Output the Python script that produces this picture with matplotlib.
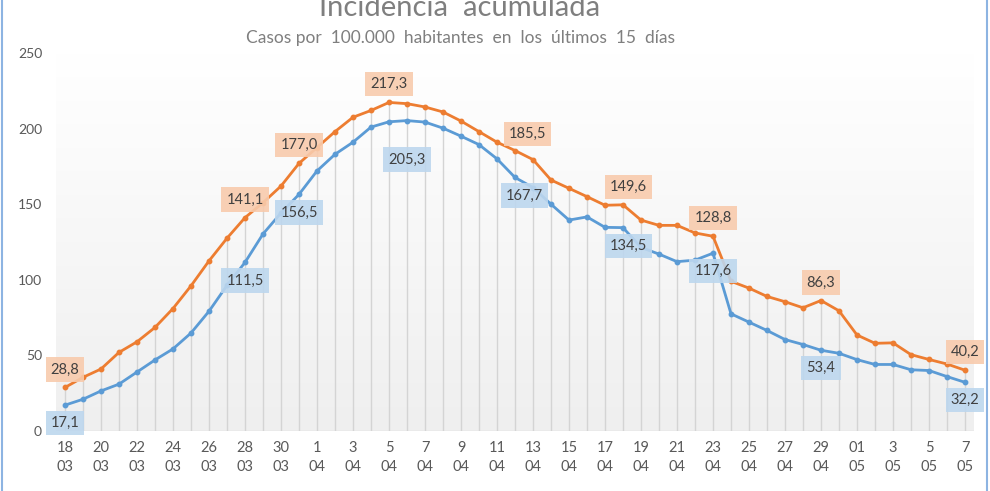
import numpy as np
import matplotlib
matplotlib.use("Agg")
import matplotlib.pyplot as plt

plt.rcParams['font.family'] = ['Lato', 'DejaVu Sans']

# ---------------- data ----------------
tick_labels = ["18\n03", "20\n03", "22\n03", "24\n03", "26\n03", "28\n03", "30\n03",
               "1\n04", "3\n04", "5\n04", "7\n04", "9\n04", "11\n04", "13\n04",
               "15\n04", "17\n04", "19\n04", "21\n04", "23\n04", "25\n04", "27\n04",
               "29\n04", "01\n05", "3\n05", "5\n05", "7\n05"]

serie_naranja = [28.8, 35.5, 41.0, 52.0, 59.0, 68.5, 81.0, 96.0, 112.5, 127.5,
                 141.1, 151.0, 162.0, 177.0, 187.5, 198.0, 207.5, 212.0, 217.3, 216.5,
                 214.3, 211.0, 205.0, 198.0, 191.0, 185.5, 179.5, 166.0, 160.5, 155.0,
                 149.3, 149.6, 139.5, 136.0, 136.0, 131.0, 128.8, 99.0, 94.5, 89.0,
                 85.5, 81.5, 86.3, 79.5, 63.5, 58.0, 58.3, 50.5, 47.3, 44.3, 40.2]

serie_azul = [17.1, 21.0, 26.5, 31.0, 39.0, 47.0, 54.3, 64.8, 79.2, 96.3,
              111.5, 130.3, 144.2, 156.5, 172.0, 183.0, 191.0, 201.0, 204.5, 205.3,
              204.3, 200.3, 195.0, 189.4, 180.0, 167.7, 161.0, 150.0, 139.5, 141.6,
              134.7, 134.5, 121.4, 117.0, 112.0, 113.0, 117.6, 77.5, 72.0, 66.5,
              60.5, 57.2, 53.4, 51.4, 47.2, 44.0, 44.0, 40.5, 40.0, 36.0, 32.2]

etiquetas_naranja = [0, 10, 13, 18, 25, 31, 36, 42, 50]
etiquetas_azul = [0, 10, 13, 19, 25, 31, 36, 42, 50]

titulo = "Incidencia  acumulada"
subtitulo = "Casos por  100.000  habitantes  en  los  últimos  15  días"

# ---------------- style ----------------
C_OR = "#ED7D31"
C_BL = "#5B9BD5"
BOX_OR = "#F8CBAD"
BOX_BL = "#BDD7EE"
TXT = "#404040"
AX_TXT = "#595959"

off_or = {0: (0, 13), 25: (9, 12), 31: (4, 13)}
off_bl = {0: (0, -13), 19: (0, -28), 25: (7, -13), 31: (4, -13)}

fig = plt.figure(figsize=(9.9, 4.91), dpi=100)
ax = fig.add_axes([56/990, 60/491, 918/990, 378/491])

n = len(serie_naranja)
x = np.arange(n)

grad = np.linspace(0, 1, 256).reshape(-1, 1)
cmap = matplotlib.colors.LinearSegmentedColormap.from_list("g", ["#EFEFEF", "#FFFFFF"])
ax.imshow(grad, extent=(-0.5, n - 0.5, 0, 250), origin="lower", aspect="auto",
          cmap=cmap, zorder=0)

ax.vlines(x, 0, serie_naranja, colors="#D4D4D4", linewidth=1.0, zorder=1)
ax.axhline(0, color="#D9D9D9", linewidth=1.0, zorder=1)

ax.plot(x, serie_naranja, color=C_OR, linewidth=2.0, marker="o", markersize=3.2, zorder=3)
ax.plot(x, serie_azul, color=C_BL, linewidth=2.0, marker="o", markersize=3.2, zorder=3)

def fmt(v):
    return f"{v:.1f}".replace(".", ",")

for i in etiquetas_naranja:
    dx, dy = off_or.get(i, (0, 13))
    ax.annotate(fmt(serie_naranja[i]), (x[i], serie_naranja[i]), xytext=(dx, dy),
                textcoords="offset points", ha="center", va="center", fontsize=10.5,
                color=TXT, zorder=5,
                bbox=dict(boxstyle="square,pad=0.35", fc=BOX_OR, ec="none", alpha=0.9))
for i in etiquetas_azul:
    dx, dy = off_bl.get(i, (0, -13))
    ax.annotate(fmt(serie_azul[i]), (x[i], serie_azul[i]), xytext=(dx, dy),
                textcoords="offset points", ha="center", va="center", fontsize=10.5,
                color=TXT, zorder=5,
                bbox=dict(boxstyle="square,pad=0.35", fc=BOX_BL, ec="none", alpha=0.9))

ax.set_xlim(-0.5, n - 0.5)
ax.set_ylim(0, 250)
ax.set_yticks([0, 50, 100, 150, 200, 250])
ax.set_xticks(x[::2])
ax.set_xticklabels(tick_labels, fontsize=10.5, color=AX_TXT, linespacing=1.45)
ax.tick_params(axis="y", labelsize=10, labelcolor=AX_TXT, length=0, pad=10)
ax.tick_params(axis="x", length=0, pad=7)
for s in ax.spines.values():
    s.set_visible(False)

fig.text(460/990, 1 - 16/491, titulo, ha="center", va="baseline", fontsize=21, color="#7F7F7F")
fig.text(460/990, 1 - 38/491, subtitulo, ha="center", va="center", fontsize=12.5, color="#7F7F7F")

fig.add_artist(plt.Line2D([2/990, 2/990], [0, 1], transform=fig.transFigure, color="#8DB4E2", linewidth=1.5))
fig.add_artist(plt.Line2D([987/990, 987/990], [0, 1], transform=fig.transFigure, color="#8DB4E2", linewidth=1.5))

fig.savefig("out.png", dpi=100)
